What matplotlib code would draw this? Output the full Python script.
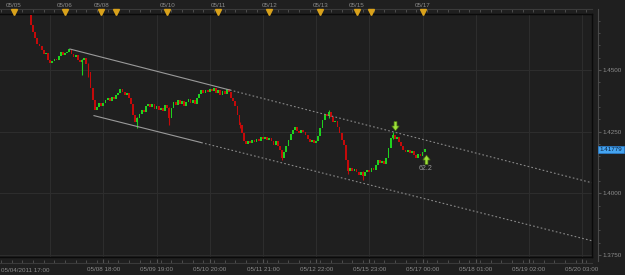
import numpy as np
import matplotlib.pyplot as plt
from matplotlib.transforms import blended_transform_factory

plt.rcParams['font.family'] = ['Liberation Sans', 'DejaVu Sans']

# hourly closes (open = previous close)
first_open = 1.4723
closes = [
    1.4682, 1.4654, 1.4630, 1.4605, 1.4597, 1.4581, 1.4565, 1.4569, 1.4541, 1.4528,
    1.4537, 1.4545, 1.4541, 1.4557, 1.4573, 1.4561, 1.4569, 1.4573, 1.4585, 1.4565,
    1.4553, 1.4561, 1.4541, 1.4532, 1.4541, 1.4549, 1.4524, 1.4492, 1.4427, 1.4378,
    1.4338, 1.4350, 1.4366, 1.4354, 1.4366, 1.4378, 1.4386, 1.4374, 1.4391, 1.4382,
    1.4399, 1.4407, 1.4423, 1.4411, 1.4399, 1.4407, 1.4386, 1.4362, 1.4318, 1.4289,
    1.4305, 1.4322, 1.4338, 1.4330, 1.4354, 1.4362, 1.4350, 1.4362, 1.4342, 1.4354,
    1.4338, 1.4346, 1.4334, 1.4358, 1.4346, 1.4305, 1.4346, 1.4370, 1.4358, 1.4378,
    1.4362, 1.4374, 1.4354, 1.4370, 1.4382, 1.4366, 1.4378, 1.4362, 1.4386, 1.4403,
    1.4419, 1.4407, 1.4419, 1.4411, 1.4423, 1.4415, 1.4427, 1.4407, 1.4419, 1.4399,
    1.4415, 1.4403, 1.4423, 1.4411, 1.4386, 1.4374, 1.4354, 1.4318, 1.4277, 1.4245,
    1.4212, 1.4200, 1.4212, 1.4204, 1.4216, 1.4208, 1.4220, 1.4212, 1.4228, 1.4220,
    1.4228, 1.4216, 1.4224, 1.4212, 1.4196, 1.4212, 1.4192, 1.4176, 1.4143, 1.4168,
    1.4192, 1.4216, 1.4241, 1.4257, 1.4269, 1.4253, 1.4245, 1.4257, 1.4249, 1.4237,
    1.4220, 1.4208, 1.4216, 1.4204, 1.4212, 1.4232, 1.4265, 1.4297, 1.4322, 1.4314,
    1.4330, 1.4309, 1.4289, 1.4293, 1.4269, 1.4245, 1.4216, 1.4196, 1.4135, 1.4091,
    1.4103, 1.4091, 1.4099, 1.4087, 1.4074, 1.4087, 1.4070, 1.4087, 1.4095, 1.4087,
    1.4103, 1.4095, 1.4115, 1.4135, 1.4123, 1.4131, 1.4119, 1.4143, 1.4184, 1.4224,
    1.4237, 1.4220, 1.4228, 1.4208, 1.4192, 1.4176, 1.4168, 1.4176, 1.4164, 1.4172,
    1.4155, 1.4143, 1.4159, 1.4151, 1.4168, 1.41779,
]
last_price = "1.41779"

# visible wicks: bar -> (high, low)
wicks = {
    24: (1.4545, 1.4480), 27: (1.4528, 1.4470), 50: (1.4310, 1.4265), 65: (1.4350, 1.4277),
    98: (1.4290, 1.4265), 118: (1.4176, 1.4135), 140: (1.4338, 1.4305), 149: (1.4135, 1.4078),
    156: (1.4090, 1.4054), 170: (1.4249, 1.4220),
}

# channel (bar index, price)
upper_line = [(18.3, 1.4585), (263.5, 1.4043)]
lower_line = [(29.6, 1.4315), (263.5, 1.3808)]
upper_solid_end = 93.5
lower_solid_end = 80.0

# arrows
down_arrow = (171, 1.4272)
up_arrow = (185.5, 1.4139)
up_arrow_label = "62.2"

price_ticks = [1.3750, 1.4000, 1.4250, 1.4500]
grid_bars = [9, 34, 59, 84, 109, 134, 159, 184, 209, 234, 259]
first_time_label = "05/04/2011 17:00"
time_labels = ["05/08 18:00", "05/09 19:00", "05/10 20:00", "05/11 21:00", "05/12 22:00",
               "05/15 23:00", "05/17 00:00", "05/18 01:00", "05/19 02:00", "05/20 03:00"]
top_dates = ["05/05", "05/06", "05/08", "05/10", "05/11", "05/12", "05/13", "05/15", "05/17"]
top_date_bars = [-8, 16, 33, 64, 88, 112, 136, 153, 184]
flag_bars = [-8, 16, 33, 40, 64, 88, 112, 136, 153, 160, 184]

BG = "#1f1f1f"
GRID = "#2d2d2d"
TXT = "#8c8c8c"
UP = "#1ed21e"
DOWN = "#c40a0a"
FS = 4.5

fig = plt.figure(figsize=(6.25, 2.75), dpi=100, facecolor=BG)
ax = fig.add_axes([0, 18 / 275, 591.7 / 625, 243 / 275])
ax.set_facecolor(BG)

opens = [first_open] + closes[:-1]
x = np.arange(len(closes))
o = np.array(opens)
c = np.array(closes)
lo = np.minimum(o, c)
hi = np.maximum(o, c)
h = np.maximum(hi - lo, 0.00015)
cols = [UP if cc >= oo else DOWN for oo, cc in zip(o, c)]
for i, (wh, wl) in wicks.items():
    ax.vlines(i, wl, wh, color=cols[i], lw=0.8, zorder=3)
ax.bar(x, h, bottom=lo, width=0.85, color=cols, linewidth=0, zorder=3)

ax.set_xlim(-14.57, 263.5)
ax.set_ylim(1.37419, 1.47270)

# channel lines
for line, end in [(upper_line, upper_solid_end), (lower_line, lower_solid_end)]:
    (x0, y0), (x1, y1) = line
    ym = y0 + (y1 - y0) * (end - x0) / (x1 - x0)
    ax.plot([x0, end], [y0, ym], color="#9a9a9a", lw=0.8, zorder=4)
    ax.plot([end, x1], [ym, y1], color="#8a8a8a", lw=0.8, ls=(0, (1.5, 2)), zorder=4)

# arrows
arrow_down = [(-0.3, 1), (0.3, 1), (0.3, 0.1), (0.75, 0.1), (0, -0.9), (-0.75, 0.1), (-0.3, 0.1), (-0.3, 1)]
arrow_up = [(px, -py) for px, py in arrow_down]
ax.plot(*down_arrow, marker=arrow_down, ms=7, color="#9ee03a", mec="#4d7a12", mew=0.5, zorder=5)
ax.plot(*up_arrow, marker=arrow_up, ms=7, color="#9ee03a", mec="#4d7a12", mew=0.5, zorder=5)
ax.text(up_arrow[0], up_arrow[1] - 0.0023, up_arrow_label, color="#9a9a9a", fontsize=FS + 0.5,
        ha="center", va="top", zorder=5)

# grid
ax.set_xticks(grid_bars)
ax.set_yticks(price_ticks)
ax.grid(True, color=GRID, lw=0.8)
ax.tick_params(length=0, labelbottom=False, labelleft=False)
ax.spines["left"].set_visible(False)
for s in ["top", "right", "bottom"]:
    ax.spines[s].set_color("#0a0a0a")
    ax.spines[s].set_linewidth(1.0)

# right price axis
ry = ax.secondary_yaxis(1.0106)
ry.set_yticks(price_ticks, labels=[f"{p:.4f}" for p in price_ticks])
ry.set_yticks(np.arange(1.375, 1.4726, 0.005), minor=True)
ry.tick_params(which="both", direction="out", colors="#555555", labelcolor=TXT, labelsize=FS, pad=0.5)
ry.tick_params(which="major", length=2.5)
ry.tick_params(which="minor", length=1.5)
ry.spines["right"].set_color("#4a4a4a")
ry.spines["right"].set_bounds(1.3725, 1.4748)

# bottom time axis
bx = ax.secondary_xaxis(-6 / 243)
bx.set_xticks(grid_bars[1:], labels=time_labels)
bx.set_xticks(np.arange(-14, 264, 5), minor=True)
bx.tick_params(which="both", direction="in", colors="#555555", labelcolor=TXT, labelsize=FS, pad=3)
bx.tick_params(which="major", length=3)
bx.tick_params(which="minor", length=2)
bx.spines["bottom"].set_color("#3a3a3a")
ax.text(0.002, -13 / 243, first_time_label, transform=ax.transAxes, color=TXT,
        fontsize=FS, ha="left", va="center")

# top date strip
tx = ax.secondary_xaxis(1 + 5 / 243)
tx.set_xticks(top_date_bars, labels=top_dates)
tx.set_xticks(np.arange(-14, 264, 5), minor=True)
tx.tick_params(which="both", direction="in", colors="#555555", labelcolor=TXT, labelsize=FS, pad=1,
               length=2)
tx.spines["top"].set_color("#3a3a3a")
trans = blended_transform_factory(ax.transData, ax.transAxes)
ax.plot(flag_bars, [1 + 2.5 / 243] * len(flag_bars), ls="none", marker="v", ms=4,
        color="#d9a21b", transform=trans, clip_on=False, zorder=6)

# last price tag
ax.text(1.0135, 1.41779, last_price, transform=blended_transform_factory(ax.transAxes, ax.transData),
        fontsize=FS, color="#0b1f3a", ha="left", va="center",
        bbox=dict(boxstyle="square,pad=0.2", fc="#45a4f0", ec="#2a7fd0", lw=0.5))

fig.savefig("out.png", dpi=100, facecolor=BG)
